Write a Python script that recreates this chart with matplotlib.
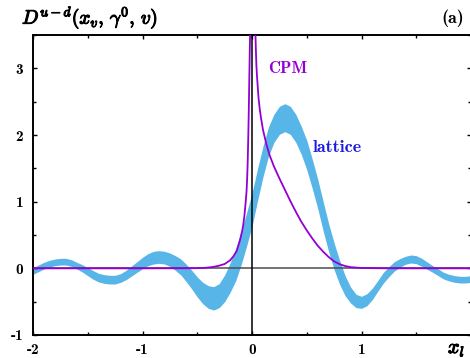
import matplotlib
matplotlib.use("Agg")
import matplotlib.pyplot as plt
import matplotlib.patheffects as pe
from matplotlib.ticker import MultipleLocator

# lattice band: x, centre value, half width of the band
lat_x = [-2.00, -1.95, -1.90, -1.85, -1.80, -1.75, -1.70, -1.65, -1.60, -1.55,
         -1.50, -1.45, -1.40, -1.35, -1.30, -1.25, -1.20, -1.15, -1.10, -1.05,
         -1.00, -0.95, -0.90, -0.85, -0.80, -0.75, -0.70, -0.65, -0.60, -0.55,
         -0.50, -0.45, -0.40, -0.35, -0.30, -0.25, -0.20, -0.15, -0.10, -0.05,
         0.00, 0.05, 0.10, 0.15, 0.20, 0.25, 0.30, 0.35, 0.40, 0.45,
         0.50, 0.55, 0.60, 0.65, 0.70, 0.75, 0.80, 0.85, 0.90, 0.95,
         1.00, 1.05, 1.10, 1.15, 1.20, 1.25, 1.30, 1.35, 1.40, 1.45,
         1.50, 1.55, 1.60, 1.65, 1.70, 1.75, 1.80, 1.85, 1.90, 1.95, 2.00]
lat_mid = [-0.04, 0.00, 0.04, 0.07, 0.09, 0.10, 0.10, 0.08, 0.04, 0.00,
           -0.05, -0.10, -0.14, -0.16, -0.17, -0.17, -0.145, -0.10, -0.04, 0.02,
           0.08, 0.13, 0.16, 0.17, 0.16, 0.13, 0.08, 0.02, -0.07, -0.17,
           -0.28, -0.37, -0.43, -0.45, -0.41, -0.30, -0.14, 0.05, 0.30, 0.58,
           0.88, 1.25, 1.60, 1.90, 2.10, 2.22, 2.26, 2.22, 2.10, 1.92,
           1.70, 1.42, 1.12, 0.78, 0.46, 0.18, -0.06, -0.26, -0.40, -0.49,
           -0.51, -0.47, -0.38, -0.26, -0.14, -0.05, 0.03, 0.08, 0.12, 0.14,
           0.13, 0.09, 0.04, -0.01, -0.06, -0.11, -0.14, -0.16, -0.17, -0.17, -0.16]
lat_half = [0.05, 0.05, 0.05, 0.05, 0.05, 0.05, 0.05, 0.05, 0.05, 0.055,
            0.06, 0.065, 0.065, 0.065, 0.065, 0.065, 0.065, 0.07, 0.075, 0.08,
            0.085, 0.09, 0.095, 0.095, 0.095, 0.10, 0.11, 0.12, 0.13, 0.14,
            0.15, 0.16, 0.17, 0.175, 0.18, 0.20, 0.22, 0.24, 0.25, 0.25,
            0.25, 0.24, 0.23, 0.22, 0.21, 0.21, 0.21, 0.21, 0.21, 0.21,
            0.22, 0.22, 0.22, 0.22, 0.21, 0.20, 0.18, 0.15, 0.12, 0.10,
            0.09, 0.09, 0.085, 0.08, 0.08, 0.075, 0.07, 0.065, 0.06, 0.06,
            0.06, 0.06, 0.055, 0.05, 0.05, 0.05, 0.05, 0.05, 0.05, 0.05, 0.05]

# CPM curve (diverges near x = 0)
cpm_x = [-2.0, -1.0, -0.6, -0.5, -0.45, -0.4, -0.35, -0.3, -0.25, -0.2,
         -0.17, -0.14, -0.11, -0.09, -0.08, -0.07, -0.06, -0.05, -0.045, -0.04,
         -0.035, -0.03, -0.025, -0.02, -0.016, -0.01, 0.0, 0.02, 0.025, 0.03,
         0.035, 0.04, 0.045, 0.05, 0.06, 0.07, 0.08, 0.1, 0.13, 0.16,
         0.2, 0.25, 0.3, 0.35, 0.4, 0.45, 0.5, 0.55, 0.6, 0.65,
         0.7, 0.75, 0.8, 0.85, 0.9, 1.0, 1.2, 1.5, 2.0]
cpm_y = [0.0, 0.0, 0.001, 0.003, 0.006, 0.012, 0.022, 0.04, 0.065, 0.12,
         0.18, 0.26, 0.42, 0.56, 0.65, 0.78, 0.95, 1.15, 1.32, 1.55,
         1.9, 2.3, 2.8, 3.3, 3.6, 5.0, 8.0, 5.0, 4.2, 3.6,
         3.3, 3.05, 2.9, 2.78, 2.55, 2.4, 2.28, 2.08, 1.87, 1.70,
         1.53, 1.35, 1.18, 1.01, 0.85, 0.70, 0.57, 0.45, 0.34, 0.25,
         0.17, 0.105, 0.062, 0.035, 0.018, 0.005, 0.001, 0.0, 0.0]

x_ticks = [-2, -1, 0, 1]
y_ticks = [-1, 0, 1, 2, 3]

BLUE = "#58b5e8"
PURPLE = "#9400d3"
FONT = "cmb10"

plt.rcParams["mathtext.fontset"] = "cm"
plt.rcParams["axes.unicode_minus"] = False

fig = plt.figure(figsize=(4.7, 3.58), dpi=100)
ax = fig.add_axes([33 / 470, 23 / 358, 438 / 470, 300 / 358])

lower = [m - h for m, h in zip(lat_mid, lat_half)]
upper = [m + h for m, h in zip(lat_mid, lat_half)]
ax.fill_between(lat_x, lower, upper, color=BLUE, lw=0, zorder=1)

ax.axhline(0, color="0.3", lw=1.1, zorder=2)
ax.axvline(0, color="black", lw=1.1, zorder=2)
ax.plot(cpm_x, cpm_y, color=PURPLE, lw=1.3, zorder=3)

ax.text(0.15, 3.0, "CPM", color=PURPLE, fontsize=12, family=FONT, va="center")
ax.text(0.555, 1.81, "lattice", color="#1a1ae6", fontsize=13, family=FONT, va="center")

ax.set_xlim(-2, 2)
ax.set_ylim(-1, 3.5)
ax.set_xticks(x_ticks)
ax.set_yticks(y_ticks)
ax.xaxis.set_minor_locator(MultipleLocator(0.5))
ax.yaxis.set_minor_locator(MultipleLocator(0.5))
ax.set_xticklabels([str(v) for v in x_ticks], family=FONT, fontsize=11)
ax.set_yticklabels([str(v) for v in y_ticks], family=FONT, fontsize=11)
ax.tick_params(which="both", direction="in", top=True, right=True, width=1)
ax.tick_params(which="major", length=3, pad=6)
ax.tick_params(which="minor", length=2)
ax.tick_params(axis="y", which="major", pad=7)
for s in ax.spines.values():
    s.set_linewidth(1.4)

stroke = [pe.withStroke(linewidth=0.8, foreground="black")]
ylab = fig.text(22 / 470, 1 - 18 / 358, r"$D^{u-d}(x_v,\,\gamma^0,\,v)$", fontsize=14,
                va="center", ha="left", path_effects=stroke)
fig.text(464 / 470, 1 - 18 / 358, "(a)", fontsize=13, family=FONT,
         va="center", ha="right")
fig.text(448 / 470, 1 - 349 / 358, r"$x_l$", fontsize=14.5,
         va="center", ha="left", path_effects=stroke)

# pin the left edge of the y label text to pixel 22
fig.canvas.draw()
bb = ylab.get_window_extent()
ylab.set_x(ylab.get_position()[0] + (22 - bb.x0) / 470)

fig.savefig("out.png", dpi=100)
